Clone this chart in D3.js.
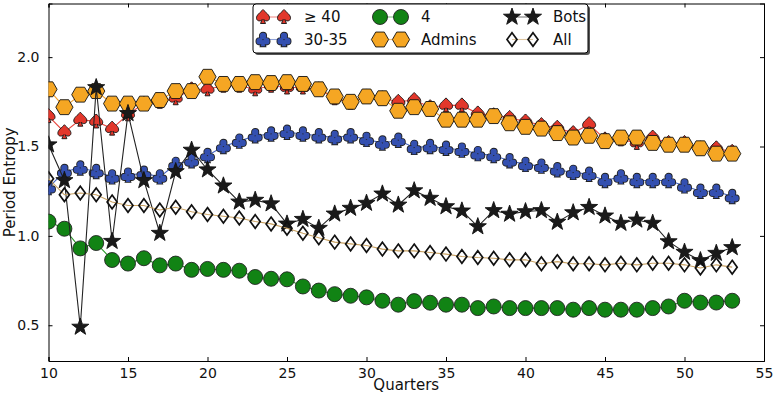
<!DOCTYPE html>
<html>
<head>
<meta charset="utf-8">
<script src="https://cdn.jsdelivr.net/npm/d3@7"></script>
<style>
  body { margin: 0; background: #fff; }
  text { font-family: "DejaVu Sans", sans-serif; fill: #111; }
</style>
</head>
<body>
<div id="chart"></div>
<script>
const width = 774, height = 398;
const margin = { top: 3.5, right: 10, bottom: 37, left: 48.5 };

const quarters = [10, 11, 12, 13, 14, 15, 16, 17, 18, 19, 20, 21, 22, 23, 24, 25, 26, 27, 28, 29, 30, 31,
  32, 33, 34, 35, 36, 37, 38, 39, 40, 41, 42, 43, 44, 45, 46, 47, 48, 49, 50, 51, 52, 53];

const ge40 = [1.67, 1.58, 1.65, 1.64, 1.60, 1.68, 1.74, 1.75, 1.77, 1.82, 1.82, 1.84, 1.84, 1.82, 1.84, 1.83,
  1.83, 1.82, 1.77, 1.745, 1.78, 1.77, 1.75, 1.76, 1.72, 1.73, 1.73, 1.685, 1.675, 1.66, 1.64, 1.62, 1.605,
  1.575, 1.625, 1.54, 1.54, 1.52, 1.55, 1.52, 1.52, 1.49, 1.49, 1.47];
const g3035 = [1.27, 1.36, 1.38, 1.36, 1.33, 1.34, 1.35, 1.33, 1.40, 1.42, 1.45, 1.50, 1.53, 1.56, 1.57, 1.58,
  1.57, 1.56, 1.55, 1.56, 1.54, 1.52, 1.535, 1.495, 1.50, 1.49, 1.48, 1.46, 1.45, 1.42, 1.40, 1.39, 1.37,
  1.355, 1.345, 1.31, 1.33, 1.31, 1.31, 1.31, 1.28, 1.25, 1.25, 1.22];
const g4 = [1.08, 1.04, 0.93, 0.96, 0.865, 0.845, 0.875, 0.835, 0.845, 0.81, 0.815, 0.81, 0.805, 0.77, 0.76,
  0.757, 0.717, 0.694, 0.674, 0.665, 0.656, 0.637, 0.615, 0.635, 0.626, 0.615, 0.615, 0.596, 0.605, 0.596,
  0.596, 0.596, 0.596, 0.587, 0.596, 0.587, 0.587, 0.587, 0.596, 0.605, 0.637, 0.627, 0.627, 0.637];
const admins = [1.82, 1.72, 1.79, 1.81, 1.74, 1.74, 1.74, 1.76, 1.81, 1.81, 1.89, 1.85, 1.85, 1.86, 1.855,
  1.86, 1.85, 1.82, 1.78, 1.75, 1.78, 1.77, 1.70, 1.72, 1.71, 1.65, 1.65, 1.65, 1.67, 1.63, 1.61, 1.60,
  1.575, 1.55, 1.56, 1.53, 1.55, 1.55, 1.52, 1.51, 1.51, 1.49, 1.46, 1.46];
const bots = [1.51, 1.31, 0.49, 1.83, 0.97, 1.685, 1.31, 1.015, 1.36, 1.48, 1.37, 1.28, 1.19, 1.20, 1.18,
  1.067, 1.093, 1.043, 1.123, 1.155, 1.183, 1.235, 1.173, 1.253, 1.211, 1.164, 1.14, 1.052, 1.142, 1.122,
  1.136, 1.142, 1.077, 1.13, 1.16, 1.112, 1.071, 1.089, 1.071, 0.968, 0.909, 0.862, 0.903, 0.935];
const all = [1.32, 1.23, 1.24, 1.23, 1.19, 1.17, 1.17, 1.145, 1.16, 1.135, 1.12, 1.11, 1.10, 1.08, 1.067,
  1.043, 1.015, 0.99, 0.965, 0.955, 0.946, 0.926, 0.916, 0.916, 0.907, 0.898, 0.885, 0.879, 0.875, 0.866,
  0.866, 0.844, 0.856, 0.844, 0.844, 0.838, 0.847, 0.838, 0.847, 0.847, 0.838, 0.82, 0.838, 0.825];

const xTicks = [10, 15, 20, 25, 30, 35, 40, 45, 50, 55];
const yTicks = [0.5, 1.0, 1.5, 2.0];

// marker shapes, centred on 0,0
function starPath(R) {
  const r = R * 0.4;
  const pts = d3.range(10).map((i) => {
    const a = -Math.PI / 2 + (i * Math.PI) / 5;
    const rr = i % 2 === 0 ? R : r;
    return [rr * Math.cos(a), rr * Math.sin(a)];
  });
  return "M" + pts.join("L") + "Z";
}
function hexPath(R) {
  const pts = d3.range(6).map((i) => {
    const a = (i * Math.PI) / 3;
    return [R * Math.cos(a), R * Math.sin(a)];
  });
  return "M" + pts.join("L") + "Z";
}
const spadePath =
  "M0,-7.5 C2.5,-4.5 7,-2 6.5,1.5 C6,4.5 2,4.5 0.8,2.5 L2.5,6.5 L-2.5,6.5 L-0.8,2.5 " +
  "C-2,4.5 -6,4.5 -6.5,1.5 C-7,-2 -2.5,-4.5 0,-7.5 Z";
const clubPath =
  "M0,-6.8 A3.2,3.2 0 1,1 0,-0.4 A3.2,3.2 0 1,1 0,-6.8 Z " +
  "M-3.4,-1.4 A3.2,3.2 0 1,1 -3.4,5 A3.2,3.2 0 1,1 -3.4,-1.4 Z " +
  "M3.4,-1.4 A3.2,3.2 0 1,1 3.4,5 A3.2,3.2 0 1,1 3.4,-1.4 Z " +
  "M0,0 L2.3,6.8 L-2.3,6.8 Z";
const diamondPath = "M0,-6.8 L5,0 L0,6.8 L-5,0 Z";

const series = [
  { name: "\u2265 40", values: ge40, line: "#e8473f", fill: "#e2372b", marker: spadePath, edge: 0.9 },
  { name: "30-35", values: g3035, line: "#4564c0", fill: "#3450b0", marker: clubPath, solid: true },
  { name: "4", values: g4, line: "#2a9a2a", fill: "#118314", circle: 7.5 },
  { name: "Admins", values: admins, line: "#f0a030", fill: "#f5a623", marker: hexPath(8.6), edge: 0.9 },
  { name: "Bots", values: bots, line: "#222", fill: "#1a1a1a", marker: starPath(9), edge: 0.9 },
  { name: "All", values: all, line: "#c8a060", fill: "none", marker: diamondPath, edge: 1.7 },
];

const svg = d3
  .select("#chart")
  .append("svg")
  .attr("width", width)
  .attr("height", height);

let x = d3
  .scaleLinear()
  .domain([10, 55])
  .range([margin.left, width - margin.right]);

let y = d3
  .scaleLinear()
  .domain([0.3, 2.3])
  .range([height - margin.bottom, margin.top]);

const plotW = width - margin.right - margin.left;
const plotH = height - margin.bottom - margin.top;

svg
  .append("clipPath")
  .attr("id", "clip")
  .append("rect")
  .attr("x", margin.left)
  .attr("y", margin.top)
  .attr("width", plotW)
  .attr("height", plotH);

// axes, ticks pointing inward on all four sides
const fmt = d3.format(".1f");
svg
  .append("g")
  .attr("transform", `translate(0,${height - margin.bottom})`)
  .call(d3.axisBottom(x).tickValues(xTicks).tickSize(-4).tickPadding(7).tickFormat(d3.format("d")));
svg
  .append("g")
  .attr("transform", `translate(0,${margin.top})`)
  .call(d3.axisTop(x).tickValues(xTicks).tickSize(-4).tickFormat(""));
svg
  .append("g")
  .attr("transform", `translate(${margin.left},0)`)
  .call(d3.axisLeft(y).tickValues(yTicks).tickSize(-4).tickPadding(9).tickFormat(fmt));
svg
  .append("g")
  .attr("transform", `translate(${width - margin.right},0)`)
  .call(d3.axisRight(y).tickValues(yTicks).tickSize(-4).tickFormat(""));

svg.selectAll(".domain").attr("stroke", "#000").attr("stroke-width", 1);
svg.selectAll(".tick line").attr("stroke", "#000");
svg.selectAll(".tick text").style("font-size", "14px").attr("fill", "#111");

svg
  .append("text")
  .attr("x", x(32.5))
  .attr("y", 390)
  .attr("text-anchor", "middle")
  .style("font-size", "15px")
  .text("Quarters");

svg
  .append("text")
  .attr("transform", `translate(15,${y(1.3)}) rotate(-90)`)
  .attr("text-anchor", "middle")
  .style("font-size", "15px")
  .text("Period Entropy");

const plot = svg.append("g").attr("clip-path", "url(#clip)");

function drawMarker(g, s, px, py) {
  if (s.circle) {
    g.append("circle")
      .attr("cx", px)
      .attr("cy", py)
      .attr("r", s.circle)
      .attr("fill", s.fill)
      .attr("stroke", "#222")
      .attr("stroke-width", 0.9);
  } else if (s.solid) {
    // outline under, fill on top, so the inner arcs of the club stay hidden
    g.append("path")
      .attr("d", s.marker)
      .attr("transform", `translate(${px},${py})`)
      .attr("fill", "#222")
      .attr("stroke", "#222")
      .attr("stroke-width", 1.8);
    g.append("path")
      .attr("d", s.marker)
      .attr("transform", `translate(${px},${py})`)
      .attr("fill", s.fill);
  } else {
    g.append("path")
      .attr("d", s.marker)
      .attr("transform", `translate(${px},${py})`)
      .attr("fill", s.fill)
      .attr("stroke", "#111")
      .attr("stroke-width", s.edge);
  }
}

let line = d3
  .line()
  .x((d, i) => x(quarters[i]))
  .y((d) => y(d));

for (let s of series) {
  let g = plot.append("g");
  g.append("path")
    .datum(s.values)
    .attr("fill", "none")
    .attr("stroke", s.line)
    .attr("stroke-width", 1.1)
    .attr("d", line);
  s.values.forEach((v, i) => drawMarker(g, s, x(quarters[i]), y(v)));
}

// legend, 3 columns filled column by column
const legend = svg.append("g").attr("transform", "translate(253,4)");
legend
  .append("rect")
  .attr("x", 2)
  .attr("y", 2)
  .attr("width", 335)
  .attr("height", 49)
  .attr("rx", 3)
  .attr("fill", "#555");
legend
  .append("rect")
  .attr("width", 335)
  .attr("height", 49)
  .attr("rx", 3)
  .attr("fill", "#fff")
  .attr("stroke", "#000")
  .attr("stroke-width", 1);

const colX = [10, 127, 259];
const rowY = [13, 35.5];
series.forEach((s, i) => {
  const cx = colX[Math.floor(i / 2)];
  const cy = rowY[i % 2];
  const g = legend.append("g");
  g.append("line")
    .attr("x1", cx)
    .attr("x2", cx + 21)
    .attr("y1", cy)
    .attr("y2", cy)
    .attr("stroke", s.line)
    .attr("stroke-opacity", 0.6)
    .attr("stroke-width", 1.1);
  drawMarker(g, s, cx, cy);
  drawMarker(g, s, cx + 21, cy);
  g.append("text")
    .attr("x", cx + 41)
    .attr("y", cy)
    .attr("dy", "0.36em")
    .style("font-size", "15px")
    .text(s.name);
});
</script>
</body>
</html>
